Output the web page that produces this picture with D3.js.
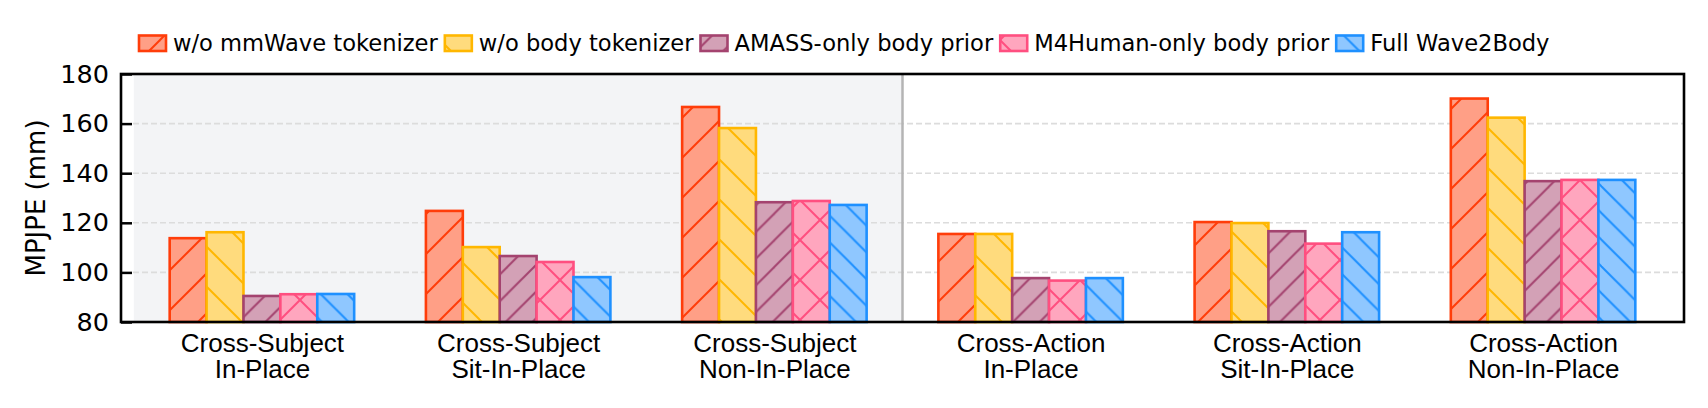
<!DOCTYPE html>
<html><head><meta charset="utf-8">
<script src="https://cdn.jsdelivr.net/npm/d3@7"></script>
<style>
html,body{margin:0;padding:0;background:#fff;}
svg{display:block;font-family:"DejaVu Sans",sans-serif;}
</style></head>
<body>
<svg id="chart" width="1708" height="408"></svg>
<script>
// ---- data ----
const categoryLine1 = ["Cross-Subject","Cross-Subject","Cross-Subject","Cross-Action","Cross-Action","Cross-Action"];
const categoryLine2 = ["In-Place","Sit-In-Place","Non-In-Place","In-Place","Sit-In-Place","Non-In-Place"];
const seriesNames = ["w/o mmWave tokenizer","w/o body tokenizer","AMASS-only body prior","M4Human-only body prior","Full Wave2Body"];
const woMmWave  = [113.8, 124.8, 166.7, 115.5, 120.3, 170.1];
const woBody    = [116.2, 110.2, 158.2, 115.5, 119.9, 162.4];
const amassOnly = [90.5, 106.6, 128.3, 97.7, 116.6, 136.8];
const m4Only    = [91.2, 104.2, 128.8, 96.7, 111.6, 137.3];
const fullModel = [91.3, 98.1, 127.2, 97.7, 116.2, 137.3];
const yTicks = [80, 100, 120, 140, 160, 180];

// ---- styles ----
const seriesValues = [woMmWave, woBody, amassOnly, m4Only, fullModel];
const edgeColors = ["#FF3D0A","#FFB700","#A4436F","#FF4F80","#1E90FF"];
const fillColors = ["#FF9F86","#FFDB7D","#D3A1B6","#FFA6BE","#8FC7FF"];
const hatchKinds = ["/","\\","/","x","\\"];
const hatchPeriods = [40, 40, 26.7, 40, 26.7];

const svg = d3.select("#chart");
const L = 121, R = 1684, T = 74, B = 322;
const x = d3.scaleLinear().domain([-0.55, 5.55]).range([L, R]);
const y = d3.scaleLinear().domain([80, 180]).range([B, T]);
const barW = 0.144;

// patterns
const defs = svg.append("defs");
hatchKinds.forEach((k, i) => {
  const p = hatchPeriods[i];
  const pat = defs.append("pattern").attr("id", "h" + i)
    .attr("patternUnits", "userSpaceOnUse").attr("width", p).attr("height", p);
  pat.append("rect").attr("width", p).attr("height", p).attr("fill", fillColors[i]);
  const segs = [];
  if (k === "/" || k === "x") {
    segs.push([0, p, p, 0], [-p/2, p/2, p/2, -p/2], [p/2, p*1.5, p*1.5, p/2]);
  }
  if (k === "\\" || k === "x") {
    segs.push([0, 0, p, p], [-p/2, p/2, p/2, p*1.5], [p/2, -p/2, p*1.5, p/2]);
  }
  segs.forEach(s => pat.append("line").attr("x1", s[0]).attr("y1", s[1]).attr("x2", s[2]).attr("y2", s[3])
    .attr("stroke", edgeColors[i]).attr("stroke-width", 2));
});

// shaded region
svg.append("rect").attr("x", x(-0.5)).attr("y", T).attr("width", x(2.5) - x(-0.5)).attr("height", B - T)
  .attr("fill", "#F3F4F6");

// gridlines
svg.append("g").selectAll("line").data(yTicks.filter(t => t > 80 && t < 180)).join("line")
  .attr("x1", L + 12).attr("x2", R).attr("y1", d => y(d)).attr("y2", d => y(d))
  .attr("stroke", "#DCDCDC").attr("stroke-width", 1.6).attr("stroke-dasharray", "6,3");

// separator
svg.append("line").attr("x1", x(2.5)).attr("x2", x(2.5)).attr("y1", T).attr("y2", B)
  .attr("stroke", "#B4B4B4").attr("stroke-width", 2.5);

// bars
seriesValues.forEach((vals, j) => {
  svg.append("g").selectAll("rect").data(vals).join("rect")
    .attr("x", (d, i) => x(i + (j - 2) * barW - barW / 2))
    .attr("width", x(barW) - x(0))
    .attr("y", d => y(d))
    .attr("height", d => y(80) - y(d))
    .attr("fill", "url(#h" + j + ")")
    .attr("stroke", edgeColors[j]).attr("stroke-width", 2.6);
});

// y axis
const yAxis = d3.axisLeft(y).tickValues(yTicks).tickSizeInner(-11).tickSizeOuter(0).tickPadding(12);
const gy = svg.append("g").attr("transform", `translate(${L},0)`).call(yAxis);
gy.select(".domain").remove();
gy.selectAll(".tick line").attr("stroke", "#000").attr("stroke-width", 2.5);
gy.selectAll(".tick text").attr("font-size", 25.5).attr("fill", "#000").attr("font-family", "DejaVu Sans");

// x axis (labels only)
const xAxis = d3.axisBottom(x).tickValues(d3.range(6)).tickSize(0).tickFormat(() => "");
const gx = svg.append("g").attr("transform", `translate(0,${B})`).call(xAxis);
gx.select(".domain").remove();
gx.selectAll(".tick").each(function(d) {
  const t = d3.select(this).append("text").attr("text-anchor", "middle").attr("font-size", 26).attr("fill", "#000");
  t.append("tspan").attr("x", 0).attr("y", 30).text(categoryLine1[d]);
  t.append("tspan").attr("x", 0).attr("y", 56).text(categoryLine2[d]);
});

// frame
svg.append("rect").attr("x", L).attr("y", T).attr("width", R - L).attr("height", B - T)
  .attr("fill", "none").attr("stroke", "#000").attr("stroke-width", 2.6);

// y label
svg.append("text").attr("transform", `translate(45,${(T + B) / 2}) rotate(-90)`)
  .attr("text-anchor", "middle").attr("font-size", 26).attr("fill", "#000").text("MPJPE (mm)");

// legend
let lx = 139;
const lg = svg.append("g");
seriesNames.forEach((name, i) => {
  lg.append("rect").attr("x", lx).attr("y", 35.5).attr("width", 27).attr("height", 15.5)
    .attr("fill", "url(#h" + i + ")").attr("stroke", edgeColors[i]).attr("stroke-width", 2.6);
  const t = lg.append("text").attr("x", lx + 34).attr("y", 50.5).attr("font-size", 22.6).attr("fill", "#000").text(name);
  lx = lx + 34 + t.node().getComputedTextLength() + 7;
});
</script>
</body></html>
